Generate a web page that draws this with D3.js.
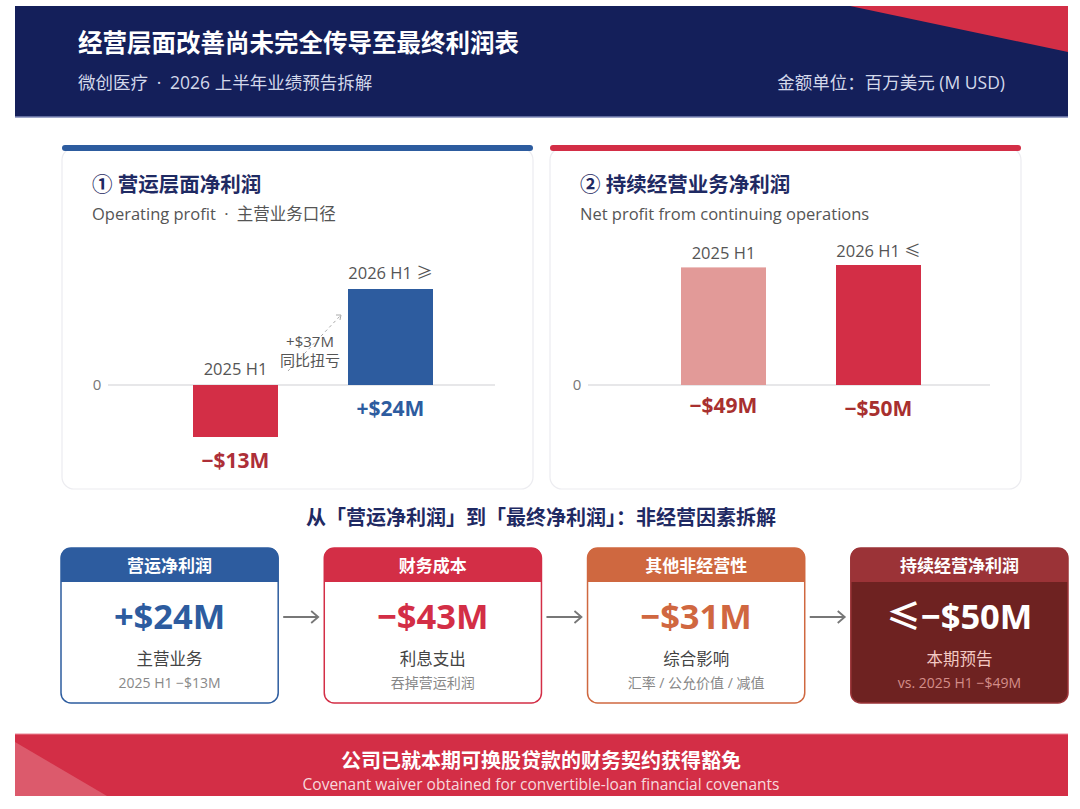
<!DOCTYPE html>
<html>
<head>
<meta charset="utf-8">
<script src="https://cdn.jsdelivr.net/npm/d3@7"></script>
<style>
  body { margin: 0; background: #fff; }
  svg { display: block; font-family: "Open Sans", "Noto Sans CJK SC", sans-serif; }
  .cjk { font-family: "Noto Sans CJK SC", sans-serif; }
</style>
</head>
<body>
<svg id="chart" width="1080" height="809"></svg>
<script>
// podaci
const categories = ["2025 H1", "2026 H1"];
const opLabels = ["2025 H1", "2026 H1 ≥"];
const opProfit = [-13, 24];
const opValueText = ["−$13M", "+$24M"];
const contLabels = ["2025 H1", "2026 H1 ≤"];
const contProfit = [-49, -50];
const contValueText = ["−$49M", "−$50M"];

const bridgeTitles = ["营运净利润", "财务成本", "其他非经营性", "持续经营净利润"];
const bridgeValues = ["+$24M", "−$43M", "−$31M", "≤−$50M"];
const bridgeLabels = ["主营业务", "利息支出", "综合影响", "本期预告"];
const bridgeNotes = ["2025 H1 −$13M", "吞掉营运利润", "汇率 / 公允价值 / 减值", "vs. 2025 H1 −$49M"];

const svg = d3.select("#chart");
const navy = "#141f5a";
const red = "#d32e46";
const blue = "#2d5c9f";
const sep = "\u2002·\u2002";

// ≤ i ≥ idu u CJK font (kosi oblik)
function richText(sel, str) {
  sel.each(function (d, i) {
    const t = d3.select(this);
    const s = typeof str === "function" ? str(d, i) : str;
    s.split(/([≤≥])/).filter(p => p !== "").forEach(p => {
      const sp = t.append("tspan").text(p);
      if (p === "≤" || p === "≥") sp.attr("class", "cjk");
    });
  });
}

// header
svg.append("rect").attr("x", 15).attr("y", 6).attr("width", 1053).attr("height", 111).attr("fill", navy);
svg.append("path").attr("d", "M850,6 L1068,6 L1068,52 Z").attr("fill", red);
svg.append("line").attr("x1", 15).attr("x2", 1068).attr("y1", 117).attr("y2", 117)
  .attr("stroke", "#7f8ab8").attr("stroke-width", 1.5);

svg.append("text").attr("x", 78).attr("y", 52)
  .style("font-size", "24.5px").style("font-weight", "700").attr("fill", "#fff")
  .text("经营层面改善尚未完全传导至最终利润表");
svg.append("text").attr("x", 78).attr("y", 89)
  .style("font-size", "17.5px").attr("fill", "#d3d8ea")
  .text("微创医疗" + sep + "2026 上半年业绩预告拆解");
svg.append("text").attr("x", 1005).attr("y", 89).attr("text-anchor", "end")
  .style("font-size", "17.5px").attr("fill", "#d3d8ea")
  .text("金额单位：百万美元 (M USD)");

// panel frame
function panel(x0, accent, title, sub) {
  svg.append("rect").attr("x", x0).attr("y", 148).attr("width", 471).attr("height", 341)
    .attr("rx", 12).attr("fill", "#fff").attr("stroke", "#ececf0").attr("stroke-width", 1.2);
  svg.append("rect").attr("x", x0).attr("y", 145).attr("width", 471).attr("height", 6)
    .attr("rx", 3).attr("fill", accent);
  svg.append("text").attr("x", x0 + 30).attr("y", 192)
    .style("font-size", "20.5px").style("font-weight", "700").attr("fill", "#1f2a63").text(title);
  svg.append("text").attr("x", x0 + 30).attr("y", 220)
    .style("font-size", "16.5px").attr("fill", "#555").text(sub);
}

panel(62, blue, "① 营运层面净利润", "Operating profit" + sep + "主营业务口径");
panel(550, red, "② 持续经营业务净利润", "Net profit from continuing operations");

// lijevi grafikon
const xL = d3.scaleBand().domain(categories).range([193, 433]).paddingInner(0.4516).paddingOuter(0);
const yL = d3.scaleLinear().domain([-15, 25]).range([445, 285]);

svg.append("line").attr("x1", 108).attr("x2", 495).attr("y1", yL(0)).attr("y2", yL(0))
  .attr("stroke", "#cfcfd4").attr("stroke-width", 1.2);
svg.append("text").attr("x", 97).attr("y", yL(0) + 5).attr("text-anchor", "middle")
  .style("font-size", "15px").attr("fill", "#777").text("0");

svg.append("g").selectAll("rect").data(opProfit).enter().append("rect")
  .attr("x", (d, i) => xL(categories[i]))
  .attr("y", d => yL(Math.max(0, d)))
  .attr("width", xL.bandwidth())
  .attr("height", d => Math.abs(yL(d) - yL(0)))
  .attr("fill", (d, i) => i === 0 ? red : blue);

svg.append("g").selectAll("text").data(opProfit).enter().append("text")
  .attr("x", (d, i) => xL(categories[i]) + xL.bandwidth() / 2)
  .attr("y", d => yL(Math.max(0, d)) - 10)
  .attr("text-anchor", "middle").style("font-size", "16.5px").attr("fill", "#555")
  .call(richText, (d, i) => opLabels[i]);

svg.append("g").selectAll("text").data(opProfit).enter().append("text")
  .attr("x", (d, i) => xL(categories[i]) + xL.bandwidth() / 2)
  .attr("y", d => yL(Math.min(0, d)) + 31)
  .attr("text-anchor", "middle").style("font-size", "21px").style("font-weight", "700")
  .attr("fill", (d, i) => i === 0 ? "#ad2f38" : blue)
  .text((d, i) => opValueText[i]);

// anotacija
const ax0 = xL(categories[0]) + xL.bandwidth() + 10;
const ax1 = xL(categories[1]) - 7;
svg.append("line").attr("x1", ax0).attr("y1", yL(3.5)).attr("x2", ax1).attr("y2", yL(17.5))
  .attr("stroke", "#aaa").attr("stroke-width", 1).attr("stroke-dasharray", "3,3");
svg.append("path")
  .attr("d", "M" + ax1 + "," + yL(17.5) + " l-5,0 M" + ax1 + "," + yL(17.5) + " l-1,5")
  .attr("stroke", "#aaa").attr("fill", "none");
svg.append("text").attr("x", 310).attr("y", 347).attr("text-anchor", "middle")
  .style("font-size", "15px").attr("fill", "#555").text("+$37M");
svg.append("text").attr("x", 310).attr("y", 366).attr("text-anchor", "middle")
  .style("font-size", "15px").attr("fill", "#555").text("同比扭亏");

// desni grafikon
const xR = d3.scaleBand().domain(categories).range([681, 921]).paddingInner(0.4516).paddingOuter(0);
const yR = d3.scaleLinear().domain([0, 50]).range([385, 265]);

svg.append("line").attr("x1", 588).attr("x2", 990).attr("y1", yR(0)).attr("y2", yR(0))
  .attr("stroke", "#cfcfd4").attr("stroke-width", 1.2);
svg.append("text").attr("x", 577).attr("y", yR(0) + 5).attr("text-anchor", "middle")
  .style("font-size", "15px").attr("fill", "#777").text("0");

svg.append("g").selectAll("rect").data(contProfit).enter().append("rect")
  .attr("x", (d, i) => xR(categories[i]))
  .attr("y", d => yR(Math.abs(d)))
  .attr("width", xR.bandwidth())
  .attr("height", d => yR(0) - yR(Math.abs(d)))
  .attr("fill", (d, i) => i === 0 ? "#e29a98" : red);

svg.append("g").selectAll("text").data(contProfit).enter().append("text")
  .attr("x", (d, i) => xR(categories[i]) + xR.bandwidth() / 2)
  .attr("y", d => yR(Math.abs(d)) - 8)
  .attr("text-anchor", "middle").style("font-size", "16.5px").attr("fill", "#555")
  .call(richText, (d, i) => contLabels[i]);

svg.append("g").selectAll("text").data(contProfit).enter().append("text")
  .attr("x", (d, i) => xR(categories[i]) + xR.bandwidth() / 2)
  .attr("y", (d, i) => yR(0) + (i === 0 ? 28 : 31))
  .attr("text-anchor", "middle").style("font-size", "21px").style("font-weight", "700")
  .attr("fill", "#a8302f")
  .text((d, i) => contValueText[i]);

// most
svg.append("text").attr("x", 541).attr("y", 525).attr("text-anchor", "middle")
  .style("font-size", "20px").style("font-weight", "700").attr("fill", "#1f2a63")
  .text("从「营运净利润」到「最终净利润」：非经营因素拆解");

const cardX = d3.scaleBand().domain(bridgeTitles).range([61, 1068]).paddingInner(0.175).paddingOuter(0);
const headColors = [blue, red, "#cf6840", "#9b3337"];
const bodyColors = ["#fff", "#fff", "#fff", "#6e2221"];
const valueColors = [blue, red, "#d06740", "#fff"];
const labelColors = ["#444", "#444", "#444", "#f3c9c3"];
const noteColors = ["#888", "#888", "#888", "#d48e89"];
const cy0 = 548, cy1 = 703, cw = cardX.bandwidth();

const cards = svg.append("g").selectAll("g").data(bridgeTitles).enter().append("g")
  .attr("transform", d => "translate(" + cardX(d) + ",0)");

cards.append("rect").attr("x", 0).attr("y", cy0).attr("width", cw).attr("height", cy1 - cy0)
  .attr("rx", 10).attr("fill", (d, i) => bodyColors[i])
  .attr("stroke", (d, i) => headColors[i]).attr("stroke-width", 1.5);
cards.append("path")
  .attr("d", "M0," + (cy0 + 34) + " V" + (cy0 + 10) + " Q0," + cy0 + " 10," + cy0 +
    " H" + (cw - 10) + " Q" + cw + "," + cy0 + " " + cw + "," + (cy0 + 10) + " V" + (cy0 + 34) + " Z")
  .attr("fill", (d, i) => headColors[i]);
cards.append("text").attr("x", cw / 2).attr("y", cy0 + 24).attr("text-anchor", "middle")
  .style("font-size", "17px").style("font-weight", "700").attr("fill", "#fff").text(d => d);
cards.append("text").attr("x", cw / 2).attr("y", 629).attr("text-anchor", "middle")
  .style("font-size", "34.5px").style("font-weight", "700")
  .attr("fill", (d, i) => valueColors[i]).call(richText, (d, i) => bridgeValues[i]);
cards.append("text").attr("x", cw / 2).attr("y", 665).attr("text-anchor", "middle")
  .style("font-size", "16.5px").attr("fill", (d, i) => labelColors[i]).text((d, i) => bridgeLabels[i]);
cards.append("text").attr("x", cw / 2).attr("y", 688).attr("text-anchor", "middle")
  .style("font-size", "14px").attr("fill", (d, i) => noteColors[i]).text((d, i) => bridgeNotes[i]);

// strelice
svg.append("g").selectAll("path").data(bridgeTitles.slice(0, 3)).enter().append("path")
  .attr("d", d => {
    const x0 = cardX(d) + cw + 5, x1 = x0 + 35;
    return "M" + x0 + ",617 H" + x1 + " M" + (x1 - 7) + ",611 L" + x1 + ",617 L" + (x1 - 7) + ",623";
  })
  .attr("stroke", "#777").attr("stroke-width", 1.8).attr("fill", "none");

// footer
svg.append("rect").attr("x", 15).attr("y", 734).attr("width", 1053).attr("height", 62).attr("fill", red);
svg.append("path").attr("d", "M15,742 L107,796 L15,796 Z").attr("fill", "#dc5a6c");
svg.append("line").attr("x1", 15).attr("x2", 1068).attr("y1", 734).attr("y2", 734)
  .attr("stroke", "#e98594").attr("stroke-width", 1);
svg.append("text").attr("x", 541).attr("y", 768).attr("text-anchor", "middle")
  .style("font-size", "20px").style("font-weight", "700").attr("fill", "#fff")
  .text("公司已就本期可换股贷款的财务契约获得豁免");
svg.append("text").attr("x", 541).attr("y", 790).attr("text-anchor", "middle")
  .style("font-size", "15.5px").attr("fill", "#f7d9dd")
  .text("Covenant waiver obtained for convertible-loan financial covenants");
</script>
</body>
</html>
